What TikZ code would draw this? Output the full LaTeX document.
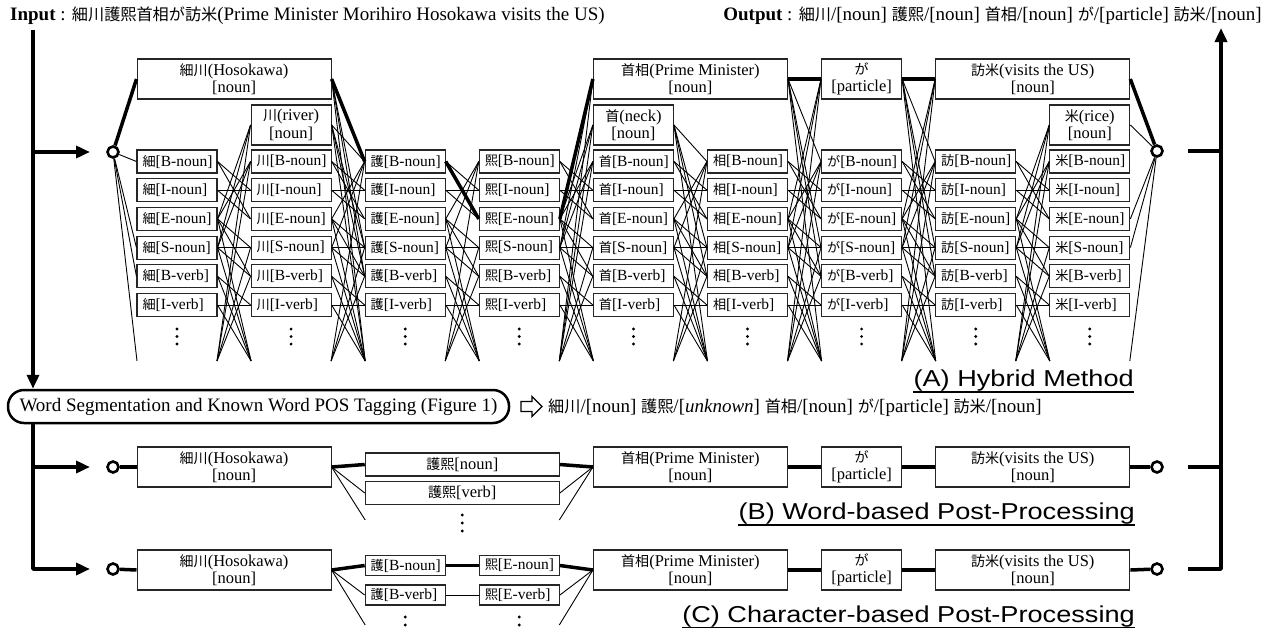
\documentclass[tikz,border=0pt]{standalone}
\usepackage{fontspec}
\setmainfont{Liberation Serif}
\newfontfamily\cjkf{Noto Sans CJK JP}[Scale=0.85]
\newfontfamily\lblf{Liberation Sans}[FakeStretch=1.18]
\usetikzlibrary{arrows.meta}
\newcommand\J[1]{{\cjkf #1}}
\newcommand\rowtxt[1]{\makebox[69pt][l]{#1}}
\begin{document}
\begin{tikzpicture}[x=1pt,y=-1pt,
  box/.style={draw=black!85, line width=1.1pt, inner sep=0pt},
  cbox/.style={box, minimum width=80pt, minimum height=23pt, font=\fontsize{15.5}{17}\selectfont},
  sbox/.style={box, minimum width=80pt, minimum height=20pt, font=\fontsize{15.5}{17}\selectfont},
  wbox/.style={box, align=center, minimum height=40pt, font=\fontsize{16.5}{17.5}\selectfont},
  lnk/.style={line width=0.9pt},
  best/.style={line width=3.5pt},
  flow/.style={line width=3.5pt},
  arr/.style={-{Triangle[length=14pt,width=12pt]}},
  endc/.style={circle, draw, line width=2.6pt, minimum size=11pt, inner sep=0pt, fill=white},
  big/.style={inner sep=0pt, font=\fontsize{19}{21}\selectfont},
  lab/.style={inner sep=0pt, anchor=base east, font=\lblf\fontsize{23}{25}\selectfont},
  uline/.style={line width=1.3pt}
]
\useasboundingbox (0,0) rectangle (1265,629);

% ---------------- titles
\node[big, anchor=base west] (inp) at (10,20) {\textbf{Input} : \J{細川護熙首相が訪米}(Prime Minister Morihiro Hosokawa visits the US)};
\node[big, anchor=base east] (outp) at (1262,20) {\textbf{Output} : \J{細川}/[noun] \J{護熙}/[noun] \J{首相}/[noun] \J{が}/[particle] \J{訪米}/[noun]};

% ---------------- (A) lattice columns
\foreach \ch [count=\c from 0] in {細,川,護,熙,首,相,が,訪,米} {
  \pgfmathsetmacro\xl{137+114.1*\c}
  \pgfmathsetmacro\xc{\xl+40}
  \foreach \t [count=\r from 0] in {B-noun,I-noun,E-noun,S-noun,B-verb,I-verb} {
    \pgfmathsetmacro\yc{161.5+28.7*\r}
    \node[cbox] (c\c-\r) at (\xc,\yc) {\rowtxt{\J{\ch}[\t]}};
  }
  \coordinate (hL\c) at (\xl,361);
  \coordinate (hR\c) at (\xl+80,361);
  \foreach \yy in {329,336.5,344} \fill (\xc,\yy) circle (1.6pt);
}

% word nodes
\node[wbox, minimum width=194pt] (w01) at (234.05,79) {\J{細川}(Hosokawa)\\{[noun]}};
\node[wbox, minimum width=80pt]  (w11) at (291.1,125) {\J{川}(river)\\{[noun]}};
\node[wbox, minimum width=194pt] (w45) at (690.45,79) {\J{首相}(Prime Minister)\\{[noun]}};
\node[wbox, minimum width=80pt]  (w44) at (633.4,125) {\J{首}(neck)\\{[noun]}};
\node[wbox, minimum width=80pt]  (w66) at (861.6,79) {\J{が}\\{[particle]}};
\node[wbox, minimum width=194pt] (w78) at (1032.75,79) {\J{訪米}(visits the US)\\{[noun]}};
\node[wbox, minimum width=80pt]  (w88) at (1089.8,125) {\J{米}(rice)\\{[noun]}};

\node[endc] (stA) at (113,152) {};
\node[endc] (enA) at (1157,151) {};

% char-to-char transitions
\foreach \c in {0,...,7} {
  \pgfmathtruncatemacro\n{\c+1}
  \foreach \a in {0,1} {\foreach \b in {1,2} {\draw[lnk] (c\c-\a.east) -- (c\n-\b.west);}}
  \foreach \a in {2,3} {
    \foreach \b in {0,3,4} {\draw[lnk] (c\c-\a.east) -- (c\n-\b.west);}
    \draw[lnk] (c\c-\a.east) -- (hL\n);
  }
  \foreach \a in {4,5} {
    \draw[lnk] (c\c-\a.east) -- (c\n-5.west);
    \draw[lnk] (c\c-\a.east) -- (hL\n);
  }
  \foreach \b in {0,3,4} {\draw[lnk] (hR\c) -- (c\n-\b.west);}
}
% boundary 0
\foreach \b in {0,3,4} {\draw[lnk] (stA) -- (c0-\b.west);}
\draw[lnk] (stA) -- (hL0);
% boundary 1
\foreach \a in {2,3} {\draw[lnk] (c0-\a.east) -- (w11.west);}
\draw[lnk] (hR0) -- (w11.west);
% boundary 2
\foreach \b in {3,4} {\draw[lnk] (w01.east) -- (c2-\b.west);}
\draw[lnk] (w01.east) -- (hL2);
\foreach \b in {0,3,4} {\draw[lnk] (w11.east) -- (c2-\b.west);}
\draw[lnk] (w11.east) -- (hL2);
% boundary 4
\foreach \a in {2,3} {\draw[lnk] (c3-\a.east) -- (w44.west);}
\draw[lnk] (c3-3.east) -- (w45.west);
\draw[lnk] (hR3) -- (w45.west);
\draw[lnk] (hR3) -- (w44.west);
% boundary 5
\foreach \b in {0,3,4} {\draw[lnk] (w44.east) -- (c5-\b.west);}
\draw[lnk] (w44.east) -- (hL5);
% boundary 6
\foreach \a in {2,3} {\draw[lnk] (c5-\a.east) -- (w66.west);}
\draw[lnk] (hR5) -- (w66.west);
\foreach \b in {0,3,4} {\draw[lnk] (w45.east) -- (c6-\b.west);}
\draw[lnk] (w45.east) -- (hL6);
% boundary 7
\foreach \a in {2,3} {\draw[lnk] (c6-\a.east) -- (w78.west);}
\draw[lnk] (hR6) -- (w78.west);
\foreach \b in {0,3,4} {\draw[lnk] (w66.east) -- (c7-\b.west);}
\draw[lnk] (w66.east) -- (hL7);
% boundary 8
\foreach \a in {2,3} {\draw[lnk] (c7-\a.east) -- (w88.west);}
\draw[lnk] (hR7) -- (w88.west);
% boundary 9
\draw[lnk] (w88.east) -- (enA);
\foreach \a in {2,3} {\draw[lnk] (c8-\a.east) -- (enA);}
\draw[lnk] (hR8) -- (enA);
% best path
\draw[best] (stA) -- (w01.west);
\draw[best] (w01.east) -- (c2-0.west);
\draw[best] (c2-0.east) -- (c3-2.west);
\draw[best] (c3-2.east) -- (w45.west);
\draw[best] (w45.east) -- (w66.west);
\draw[best] (w66.east) -- (w78.west);
\draw[best] (w78.east) -- (enA);

\node[lab] (labA) at (1134,386) {(A) Hybrid Method};
\draw[uline] ([yshift=-6pt]labA.base west) -- ([yshift=-6pt]labA.base east);

% ---------------- segmentation
\node[draw, line width=2.5pt, rounded corners=16pt, minimum width=501pt, minimum height=33pt, inner sep=0pt, font=\fontsize{19}{21}\selectfont] (seg) at (258.5,406.5) {Word Segmentation and Known Word POS Tagging (Figure 1)};
\draw[line width=1.3pt, line join=miter] (521,401.5) -- (532,401.5) -- (532,396.5) -- (542,406.5) -- (532,416.5) -- (532,411.5) -- (521,411.5) -- cycle;
\node[big, anchor=base west] (res) at (548,412) {\J{細川}/[noun] \J{護熙}/[\textit{unknown}] \J{首相}/[noun] \J{が}/[particle] \J{訪米}/[noun]};

% ---------------- (B) word-based
\node[endc] (stB) at (113,467) {};
\node[wbox, minimum width=194pt] (bw01) at (234.05,467) {\J{細川}(Hosokawa)\\{[noun]}};
\node[box, minimum width=194pt, minimum height=23pt, font=\fontsize{16.5}{17.5}\selectfont] (bgn) at (462.3,464.5) {\J{護熙}[noun]};
\node[box, minimum width=194pt, minimum height=23pt, font=\fontsize{16.5}{17.5}\selectfont] (bgv) at (462.3,493) {\J{護熙}[verb]};
\node[wbox, minimum width=194pt] (bw45) at (690.45,467) {\J{首相}(Prime Minister)\\{[noun]}};
\node[wbox, minimum width=80pt]  (bw66) at (861.6,467) {\J{が}\\{[particle]}};
\node[wbox, minimum width=194pt] (bw78) at (1032.75,467) {\J{訪米}(visits the US)\\{[noun]}};
\node[endc] (enB) at (1157,467) {};
\coordinate (hBL) at (365.2,520);
\coordinate (hBR) at (559.3,520);
\foreach \yy in {515,523,531} \fill (462.3,\yy) circle (1.6pt);
\draw[lnk] (bw01.east) -- (bgv.west);
\draw[lnk] (bw01.east) -- (hBL);
\draw[lnk] (bgv.east) -- (bw45.west);
\draw[lnk] (hBR) -- (bw45.west);
\draw[best] (stB) -- (bw01.west);
\draw[best] (bw01.east) -- (bgn.west);
\draw[best] (bgn.east) -- (bw45.west);
\draw[best] (bw45.east) -- (bw66.west);
\draw[best] (bw66.east) -- (bw78.west);
\draw[best] (bw78.east) -- (enB);
\node[lab] (labB) at (1135,519) {(B) Word-based Post-Processing};
\draw[uline] ([yshift=-6pt]labB.base west) -- ([yshift=-6pt]labB.base east);

% ---------------- (C) character-based
\node[endc] (stC) at (113,569) {};
\node[wbox, minimum width=194pt] (cw01) at (234.05,570) {\J{細川}(Hosokawa)\\{[noun]}};
\node[sbox] (cg0) at (405.2,565.5) {\rowtxt{\J{護}[B-noun]}};
\node[sbox] (ck0) at (519.3,565.5) {\rowtxt{\J{熙}[E-noun]}};
\node[sbox] (cg1) at (405.2,595) {\rowtxt{\J{護}[B-verb]}};
\node[sbox] (ck1) at (519.3,595) {\rowtxt{\J{熙}[E-verb]}};
\node[wbox, minimum width=194pt] (cw45) at (690.45,570) {\J{首相}(Prime Minister)\\{[noun]}};
\node[wbox, minimum width=80pt]  (cw66) at (861.6,570) {\J{が}\\{[particle]}};
\node[wbox, minimum width=194pt] (cw78) at (1032.75,570) {\J{訪米}(visits the US)\\{[noun]}};
\node[endc] (enC) at (1157,569) {};
\coordinate (hCL) at (365.2,625);
\coordinate (hCR) at (559.3,625);
\foreach \yy in {617,625} {\fill (405.2,\yy) circle (1.6pt); \fill (519.3,\yy) circle (1.6pt);}
\draw[lnk] (cw01.east) -- (cg1.west);
\draw[lnk] (cw01.east) -- (hCL);
\draw[lnk] (cg1.east) -- (ck1.west);
\draw[lnk] (ck1.east) -- (cw45.west);
\draw[lnk] (hCR) -- (cw45.west);
\draw[best] (stC) -- (cw01.west);
\draw[best] (cw01.east) -- (cg0.west);
\draw[best] (cg0.east) -- (ck0.west);
\draw[best] (ck0.east) -- (cw45.west);
\draw[best] (cw45.east) -- (cw66.west);
\draw[best] (cw66.east) -- (cw78.west);
\draw[best] (cw78.east) -- (enC);
\node[lab] (labC) at (1135,622) {(C) Character-based Post-Processing};
\draw[uline] ([yshift=-5.5pt]labC.base west) -- ([yshift=-5.5pt]labC.base east);

% ---------------- flow lines
\coordinate (L0) at (33,30);
\coordinate (LA) at (33,152);  \coordinate (LAe) at (90,152);
\coordinate (LB) at (33,467);  \coordinate (LBe) at (90,467);
\coordinate (LC) at (33,569);  \coordinate (LCe) at (90,569);
\draw[flow, arr] (L0) -- (L0 |- seg.north);
\draw[flow, arr] (LA) -- (LAe);
\draw[flow, arr] (LB) -- (LBe);
\draw[flow, arr, line join=round] (L0 |- seg.south) -- (LC) -- (LCe);
\coordinate (RA) at (1188,151); \coordinate (RAe) at (1221,151);
\coordinate (RB) at (1188,467); \coordinate (RBe) at (1221,467);
\coordinate (RC) at (1188,569); \coordinate (RCe) at (1221,569);
\coordinate (Rtop) at (1221,28);
\draw[flow] (RA) -- (RAe);
\draw[flow] (RB) -- (RBe);
\draw[flow, arr, line join=round] (RC) -- (RCe) -- (Rtop);
\end{tikzpicture}
\end{document}
